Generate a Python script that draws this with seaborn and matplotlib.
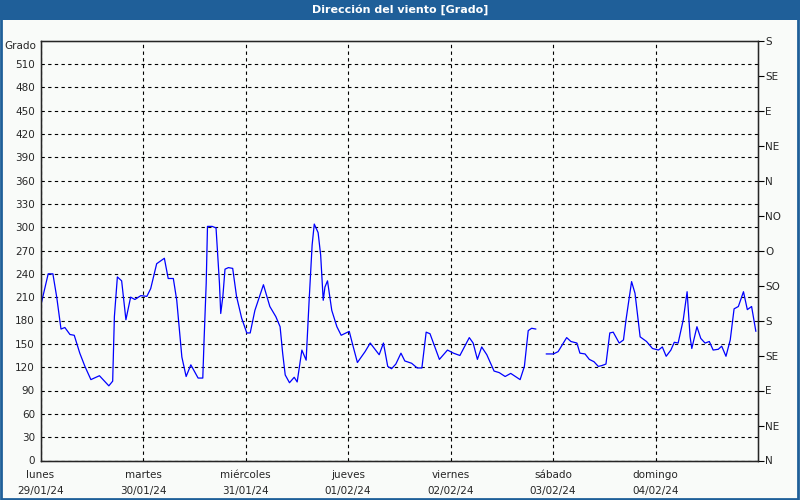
import numpy as np
import pandas as pd
import matplotlib
matplotlib.use('Agg')
import matplotlib.pyplot as plt
import seaborn as sns

# horas desde lunes 29/01/24 00:00 y dirección del viento en grados
horas = [0.1, 1.8, 2.9, 3.8, 4.8, 5.7, 6.9, 7.9, 9.2, 10.4, 11.8, 13.8, 16.0, 16.9,
         17.3, 18.0, 19.0, 20.0, 21.1, 22.1, 23.5, 24.9, 25.8, 27.2, 29.0, 29.9,
         31.1, 31.9, 33.1, 34.1, 35.2, 36.9, 38.0, 38.3, 38.8, 39.1, 40.2, 41.1,
         41.9, 42.2, 42.7, 43.2, 44.0, 45.0, 45.9, 47.1, 48.3, 49.1, 50.2, 52.2,
         53.7, 55.1, 56.1, 56.7, 57.3, 58.3, 59.4, 60.1, 61.2, 62.2, 62.9, 63.6,
         64.1, 65.0, 65.6, 66.2, 66.6, 67.2, 68.2, 69.4, 70.4, 72.3, 72.9, 74.2,
         76.0, 77.2, 79.3, 80.3, 81.3, 82.2, 83.2, 84.4, 85.3, 86.9, 88.2, 89.3,
         90.3, 91.2, 93.4, 95.3, 96.7, 98.2, 100.4, 101.3, 102.3, 103.3, 104.5,
         106.2, 107.4, 108.8, 110.1, 112.3, 113.3, 114.2, 115.0, 116.0]
grados = [200, 240, 240, 210, 169, 171, 162, 161, 138, 121, 104, 109, 96, 102,
          185, 236, 231, 181, 210, 207, 212, 211, 221, 253, 260, 234,
          234, 206, 133, 108, 123, 106, 106, 155, 228, 301, 301, 299,
          228, 189, 211, 246, 248, 247, 211, 183, 164, 164, 193, 226,
          198, 185, 172, 138, 110, 100, 107, 101, 142, 129, 206, 277,
          304, 293, 264, 206, 223, 231, 193, 172, 161, 166, 153, 126,
          140, 151, 136, 151, 121, 118, 124, 138, 128, 125, 119, 119,
          165, 163, 130, 142, 138, 135, 158, 151, 130, 146, 136,
          115, 113, 108, 112, 104, 121, 167, 170, 169]

# segundo tramo, tras el hueco de datos del sábado
horas2 = [118.4, 120.1, 121.2, 123.2, 124.2, 125.6, 126.3, 127.5, 128.5, 129.6,
          130.6, 131.4, 132.4, 133.3, 134.1, 135.5, 136.5, 137.1, 138.4, 139.2,
          140.4, 141.9, 143.3, 144.7, 145.6, 146.5, 147.6, 148.4, 149.3, 150.5,
          151.4, 152.1, 152.5, 153.7, 154.6, 155.6, 156.6, 157.5, 158.7, 159.5,
          160.5, 161.5, 162.4, 163.4, 164.6, 165.5, 166.5, 167.5]
grados2 = [137, 137, 140, 158, 153, 151, 138, 137, 130, 127,
           121, 122, 124, 164, 165, 151, 155, 181, 230, 215,
           159, 153, 144, 142, 146, 134, 142, 152, 151, 181,
           217, 159, 144, 172, 157, 151, 153, 142, 143, 147,
           134, 155, 195, 198, 217, 194, 198, 166]

dias = ['lunes\n29/01/24', 'martes\n30/01/24', 'miércoles\n31/01/24', 'jueves\n01/02/24',
        'viernes\n02/02/24', 'sábado\n03/02/24', 'domingo\n04/02/24']
rumbos = ['N', 'NE', 'E', 'SE', 'S', 'SO', 'O', 'NO', 'N', 'NE', 'E', 'SE', 'S']

data = pd.DataFrame({
    'hora': horas + horas2,
    'grado': grados + grados2,
    'tramo': [0] * len(horas) + [1] * len(horas2),
})

sns.set_style('white')
plt.rcParams['font.family'] = ['DejaVu Sans']
fondo = '#f9fbf9'
azul = '#1f5f99'

fig = plt.figure(figsize=(8, 5), dpi=100, facecolor=fondo)
ax = fig.add_axes([40.5 / 800, 39.5 / 500, 717.5 / 800, 420 / 500])
ax.set_facecolor(fondo)

sns.lineplot(data=data, x='hora', y='grado', units='tramo', estimator=None,
             color='#0000ff', linewidth=0.9, ax=ax)

ax.set_xlim(0, 168)
ax.set_ylim(0, 540)
ax.set_xticks(np.arange(0, 168, 24))
ax.set_xticklabels(dias, fontsize=7.5, linespacing=1.75)
ax.set_yticks(np.arange(0, 511, 30))
ax.tick_params(axis='y', length=0, labelsize=7.5, pad=4)
ax.tick_params(axis='x', length=0, labelsize=7.5, pad=7)
ax.set_xlabel('')
ax.set_ylabel('')
ax.grid(True, color='black', linestyle=(0, (3, 3)), linewidth=0.8)
for s in ax.spines.values():
    s.set_color('black')
    s.set_linewidth(1)

ax2 = ax.twinx()
ax2.set_ylim(0, 540)
ax2.set_yticks(np.arange(0, 541, 45))
ax2.set_yticklabels(rumbos)
ax2.tick_params(axis='y', length=4, width=0.8, labelsize=7.5, pad=1, color='black')

ax.text(-0.006, 0.998, 'Grado', transform=ax.transAxes, ha='right', va='top', fontsize=7.5)

# barra del título y marco
fig.patches.append(plt.Rectangle((0, 480 / 500), 1, 20 / 500, transform=fig.transFigure,
                                 facecolor=azul, edgecolor='none'))
fig.patches.append(plt.Rectangle((0.001, 0.002), 0.997, 0.996, transform=fig.transFigure,
                                 facecolor='none', edgecolor=azul, linewidth=2))
fig.text(0.5, 490 / 500, 'Dirección del viento [Grado]', color='white', fontsize=8,
         fontweight='bold', ha='center', va='center')

fig.savefig('out.png', dpi=100, facecolor=fondo)
